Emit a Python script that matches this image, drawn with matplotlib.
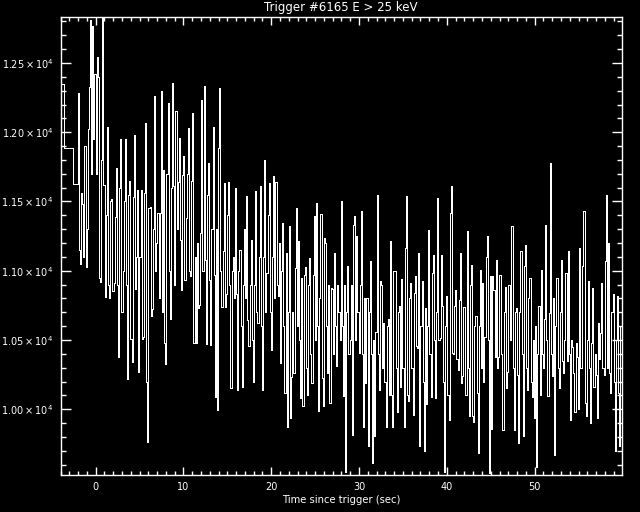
import numpy as np
import matplotlib
matplotlib.use("Agg")
import matplotlib.pyplot as plt
from matplotlib.ticker import MultipleLocator, FuncFormatter

TITLE = "Trigger #6165 E > 25 keV"
XLABEL = "Time since trigger (sec)"
YLABEL = "Rate (counts s$^{-1}$)"

# pre-trigger 1.024 s bins
coarse_edges = [-4.672, -3.648, -2.624, -2.048]
coarse_rate = [12346, 11888, 11628]

# post-trigger bins, 0.128 s wide, starting at -2.048 s (8 bins per row)
fine_start = -2.048
fine_width = 0.128
fine_rate = [
    12280, 11150, 11050, 11560, 11480, 11100, 11900, 11030,
    11300, 12020, 12330, 12810, 11700, 12770, 11950, 12420,
    11700, 12540, 12400, 10950, 10920, 11800, 12832, 11620,
    10810, 11400, 12040, 10900, 10800, 11500, 11520, 10850,
    10910, 11390, 11740, 10900, 10380, 11600, 11950, 10700,
    11000, 11500, 11950, 10900, 10220, 11550, 11650, 10510,
    10340, 11530, 11980, 10870, 11100, 11580, 10270, 11100,
    11580, 10510, 10520, 11560, 12070, 10200, 9760, 11450,
    11460, 10670, 10720, 11300, 12260, 11000, 11200, 11420,
    10800, 11420, 12300, 10700, 11730, 10480, 10330, 11700,
    12210, 11000, 10650, 11600, 12355, 11610, 10900, 12150,
    11300, 11640, 11960, 11220, 10860, 11690, 11830, 10930,
    11380, 11700, 12030, 11000, 10960, 11650, 12140, 10480,
    11100, 10480, 11200, 10730, 10750, 11270, 12235, 11000,
    12331, 11080, 10470, 11550, 11780, 10930, 10465, 11300,
    12040, 10970, 10090, 11300, 9996, 11886, 12319, 11000,
    10740, 11140, 11633, 10740, 10830, 11400, 11640, 10900,
    10150, 11000, 11100, 10800, 11597, 10830, 10140, 11000,
    11150, 10600, 10164, 10900, 11300, 10800, 11537, 10646,
    10453, 10900, 11224, 10500, 10200, 10900, 11573, 10700,
    10620, 11100, 11609, 10600, 10140, 11100, 11800, 10700,
    10980, 11400, 11633, 10700, 10430, 11100, 11681, 10800,
    11640, 10900, 10814, 11200, 10333, 11000, 11344, 10600,
    10120, 11128, 9875, 10700, 11320, 9935, 10230, 10700,
    10260, 11019, 11452, 10600, 11212, 10500, 10080, 10950,
    10020, 10971, 11030, 10300, 10100, 10900, 11090, 10400,
    10188, 10971, 11393, 10500, 11489, 10600, 9984, 10800,
    11411, 10224, 10020, 11236, 11200, 10600, 10260, 10900,
    10044, 10874, 10870, 10400, 11127, 10600, 10310, 10900,
    10700, 10500, 11500, 10600, 10092, 10900, 9550, 10700,
    11031, 10400, 10500, 10900, 9815, 11332, 11392, 10500,
    11248, 10700, 10405, 10900, 11428, 10400, 9875, 10800,
    10188, 10800, 9731, 10700, 11067, 10400, 9610, 10500,
    9803, 10561, 11549, 10400, 10140, 10923, 10900, 10300,
    10620, 10200, 9875, 10598, 10650, 10100, 11212, 10100,
    9870, 10995, 11000, 10300, 9980, 10700, 10742, 10160,
    10940, 10300, 9875, 11163, 11537, 10100, 10060, 10800,
    10911, 10300, 9960, 10840, 10960, 10460, 10440, 11127,
    9731, 10600, 10923, 10200, 9695, 10730, 10040, 10600,
    11296, 10400, 10090, 10983, 11115, 10500, 10080, 10700,
    11525, 10500, 10513, 11115, 10742, 10200, 9550, 10600,
    10814, 10100, 9923, 11416, 11609, 10405, 10400, 10742,
    10860, 10360, 10285, 10790, 11127, 10190, 10240, 10740,
    10740, 10100, 11284, 10300, 9948, 10900, 11043, 9950,
    9911, 10598, 10670, 10120, 9683, 10600, 11005, 10300,
    10910, 10200, 10520, 11100, 11248, 10500, 9538, 10959,
    9860, 10959, 10860, 10380, 11079, 10300, 10380, 10971,
    10971, 10400, 9851, 10700, 10880, 10150, 10270, 10900,
    10900, 10500, 11320, 10300, 9851, 10700, 10730, 10250,
    9755, 10700, 11139, 10400, 9803, 11031, 11187, 10300,
    10140, 10800, 10947, 10200, 10090, 10500, 9935, 10600,
    9586, 10400, 10742, 10100, 11005, 10400, 10296, 10650,
    11332, 10500, 10092, 10694, 11777, 10400, 10240, 10800,
    9671, 10600, 10947, 10300, 10152, 10700, 11079, 10350,
    10260, 10500, 10983, 10350, 11139, 10400, 9923, 10500,
    10450, 10260, 9983, 10477, 10380, 10000, 11163, 10300,
    10300, 11031, 11428, 10044, 9948, 10500, 10923, 10300,
    9900, 10480, 10875, 10160, 10400, 10250, 9935, 10620,
    10360, 10550, 10910, 10300, 10250, 11067, 11549, 10300,
    11200, 10261, 10116, 10700, 10830, 10200, 9695, 10500,
    10814, 10116, 9731, 10600, 10850, 10200, 10450, 10700,
]

X_RANGE = (-4.0, 59.95)
Y_RANGE = (9525, 12832)

fine_edges = fine_start + fine_width * np.arange(len(fine_rate) + 1)
edges = np.concatenate([coarse_edges[:-1], fine_edges])
rates = np.concatenate([coarse_rate, fine_rate])

plt.rcParams["font.family"] = "DejaVu Sans"
plt.rcParams["mathtext.fontset"] = "dejavusans"

fig = plt.figure(figsize=(6.4, 5.12), dpi=100, facecolor="black")
ax = fig.add_axes([60.5 / 640, 37 / 512, 561.5 / 640, 458 / 512], facecolor="black")

# crisp 1 px white trace, like the IDL device output
ax.stairs(rates, edges, baseline=None, color="white", linewidth=0.5, antialiased=False)

ax.set_xlim(*X_RANGE)
ax.set_ylim(*Y_RANGE)

ax.xaxis.set_major_locator(MultipleLocator(10))
ax.xaxis.set_minor_locator(MultipleLocator(1))
ax.yaxis.set_major_locator(MultipleLocator(500))
ax.yaxis.set_minor_locator(MultipleLocator(100))


def sci_fmt(v, pos):
    return r"$%.2f\times10^{4}$" % (v / 1e4)


ax.yaxis.set_major_formatter(FuncFormatter(sci_fmt))

for s in ax.spines.values():
    s.set_color("white")
    s.set_linewidth(1.0)

ax.tick_params(axis="both", which="both", direction="in", colors="white",
               top=True, right=True, width=1.0, labelsize=7)
ax.tick_params(axis="x", which="major", length=6, pad=5)
ax.tick_params(axis="x", which="minor", length=3)
ax.tick_params(axis="y", which="major", length=7.5, pad=5)
ax.tick_params(axis="y", which="minor", length=3.5)

ax.set_title(TITLE, color="white", fontsize=8.5, pad=4)
ax.set_xlabel(XLABEL, color="white", fontsize=7.2, labelpad=2)
# the y title sits mostly beyond the left edge, as in the original plot
fig.text(3 / 640, 0.52, YLABEL, rotation=90, ha="right", va="center",
         color="white", fontsize=7.2)

fig.savefig("out.png", dpi=100, facecolor="black")
